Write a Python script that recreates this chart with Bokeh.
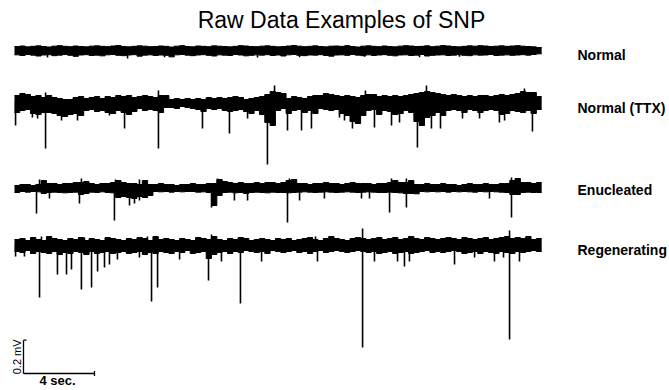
import math
import numpy as np
from bokeh.plotting import figure
from bokeh.models import Range1d, Label
from bokeh.embed import file_html
from bokeh.resources import INLINE

# ---------------------------------------------------------------
# Recorded SNP traces (values in microvolts relative to each
# trace's resting level).  Each trace is stored as the upper and
# lower envelope of the noise band in 0.3 s bins, plus the discrete
# deflections (time in s, peak in uV) that stand out of the band.
# ---------------------------------------------------------------
BIN_SEC = 0.3

normal_top = [
    24, 27, 22, 25, 28, 24, 21, 26, 29, 25,
    23, 27, 24, 22, 26, 28, 25, 23, 27, 30,
    24, 22, 25, 28, 26, 23, 24, 27, 25, 21,
    26, 29, 24, 22, 27, 25, 23, 28, 26, 24,
    22, 25, 29, 27, 24, 23, 26, 28, 25, 22,
    24, 27, 30, 26, 23, 25, 28, 24, 22, 26,
    27, 25, 29, 24, 21, 26, 28, 25, 23, 27,
    24, 22, 26, 29, 27, 24, 25, 28, 23, 26,
    30, 27, 24, 22, 25, 28, 26, 29, 27, 24,
    26, 28, 25, 27, 29, 26, 24, 22, 18,
]
normal_bot = [
    -26, -30, -24, -28, -33, -27, -25, -31, -28, -24,
    -29, -35, -27, -25, -30, -28, -32, -26, -24, -29,
    -31, -27, -25, -34, -28, -26, -30, -27, -29, -38,
    -26, -24, -28, -31, -27, -25, -29, -33, -26, -28,
    -30, -24, -27, -32, -29, -26, -28, -25, -30, -27,
    -33, -26, -24, -29, -31, -27, -28, -25, -30, -34,
    -27, -26, -29, -24, -28, -31, -26, -30, -27, -25,
    -29, -32, -27, -26, -30, -28, -24, -33, -29, -27,
    -26, -30, -28, -25, -29, -31, -26, -28, -27, -24,
    -30, -28, -26, -29, -27, -25, -28, -24, -20,
]
normal_spike_t = [1.86, 6.37, 8.45, 13.69, 16.06, 19.72, 22.82, 25.07]
normal_spike_v = [-42, -48, -40, -42, -40, -38, -40, -38]

ttx_top = [
    36, 48, 42, 30, 36, 24, 36, 24, 18, 12,
    12, 24, 30, 18, 24, 30, 18, 30, 24, 36,
    30, 36, 24, 30, 36, 30, 24, 36, 36, 12,
    18, 12, 18, 12, 18, 12, 24, 18, 24, 18,
    24, 30, 24, 12, 18, 24, 30, 42, 60, 54,
    48, 18, 30, 24, 18, 30, 36, 36, 48, 42,
    36, 30, 36, 30, 24, 36, 42, 42, 30, 36,
    30, 36, 30, 36, 42, 48, 54, 60, 54, 48,
    42, 36, 42, 36, 30, 36, 30, 36, 36, 30,
    36, 42, 36, 42, 48, 60, 54, 54, 30,
]
ttx_bot = [
    -66, -54, -48, -72, -78, -66, -66, -72, -84, -90,
    -78, -72, -84, -54, -48, -60, -54, -66, -72, -54,
    -66, -78, -60, -42, -54, -48, -54, -66, -36, -36,
    -42, -30, -36, -42, -48, -60, -42, -48, -42, -54,
    -60, -54, -48, -60, -72, -54, -78, -126, -144, -54,
    -42, -72, -54, -48, -66, -54, -72, -42, -48, -54,
    -48, -72, -84, -120, -132, -84, -54, -48, -78, -54,
    -60, -78, -72, -54, -66, -120, -144, -96, -84, -66,
    -84, -54, -48, -54, -66, -48, -54, -66, -54, -48,
    -54, -78, -72, -54, -60, -66, -54, -72, -48,
]
ttx_spike_t = [
    0.06, 1.01, 1.30, 1.75, 2.65, 3.55, 5.35, 6.20, 8.11, 10.59,
    12.11, 13.13, 14.25, 15.38, 16.17, 16.73, 18.31, 18.59, 19.04, 19.44,
    20.28, 21.24, 21.69, 22.70, 23.49, 24.00, 25.24, 26.20, 27.32, 27.61,
    29.18,
    1.75, 8.11, 14.65, 19.77, 23.21, 28.73,
]
ttx_spike_v = [
    -144, -96, -102, -282, -114, -114, -84, -162, -282, -162,
    -192, -102, -378, -174, -174, -162, -96, -114, -162, -102,
    -156, -144, -126, -276, -162, -162, -102, -102, -126, -114,
    -180,
    54, 66, 96, 66, 96, 78,
]

enuc_top = [
    12, 18, 18, 12, 18, 42, 24, 24, 18, 24,
    24, 30, 30, 36, 24, 18, 24, 24, 30, 42,
    30, 24, 24, 18, 42, 18, 18, 24, 18, 18,
    12, 18, 18, 24, 18, 18, 24, 24, 48, 36,
    30, 24, 30, 24, 24, 30, 24, 30, 30, 24,
    30, 42, 48, 24, 24, 18, 24, 24, 30, 24,
    24, 18, 24, 30, 24, 24, 24, 18, 24, 24,
    30, 42, 30, 30, 42, 18, 18, 24, 18, 18,
    24, 18, 18, 12, 18, 24, 18, 18, 24, 18,
    18, 24, 24, 42, 54, 30, 30, 24, 30,
]
enuc_bot = [
    -30, -24, -28, -24, -26, -36, -30, -28, -30, -32,
    -30, -28, -42, -36, -28, -30, -26, -30, -32, -60,
    -54, -60, -66, -54, -60, -48, -24, -26, -24, -28,
    -24, -26, -24, -24, -28, -26, -30, -108, -48, -30,
    -28, -32, -30, -36, -30, -28, -30, -32, -28, -30,
    -30, -32, -30, -28, -26, -28, -30, -28, -26, -28,
    -30, -28, -26, -28, -30, -28, -26, -28, -30, -30,
    -28, -30, -32, -36, -36, -38, -24, -26, -24, -26,
    -24, -28, -24, -26, -24, -26, -28, -24, -26, -24,
    -26, -28, -30, -42, -42, -30, -28, -30, -30,
]
enuc_spike_t = [
    1.24, 1.97, 3.66, 5.63, 6.48, 6.76, 7.04, 11.10, 12.39, 13.13,
    15.38, 16.06, 17.46, 19.55, 20.00, 21.13, 22.08, 26.76, 28.00,
    1.41, 3.77, 5.69, 7.04, 11.44, 15.49, 21.24, 22.08, 28.00,
]
enuc_spike_v = [
    -156, -66, -96, -198, -108, -96, -78, -120, -78, -78,
    -210, -78, -66, -66, -66, -150, -120, -66, -180,
    48, 54, 48, 48, 54, 54, 54, 54, 60,
]

regen_top = [
    30, 36, 24, 42, 30, 24, 48, 36, 30, 24,
    36, 30, 42, 24, 36, 30, 24, 42, 36, 30,
    24, 36, 30, 42, 36, 24, 48, 30, 36, 30,
    24, 36, 30, 24, 42, 36, 30, 48, 30, 24,
    36, 30, 42, 36, 24, 30, 36, 30, 24, 36,
    30, 36, 24, 30, 36, 42, 30, 24, 36, 48,
    36, 30, 24, 36, 42, 36, 30, 36, 42, 30,
    36, 42, 30, 36, 48, 36, 30, 42, 36, 30,
    36, 42, 36, 30, 42, 36, 30, 36, 42, 30,
    36, 42, 48, 36, 42, 36, 48, 30, 36,
]
regen_bot = [
    -42, -48, -36, -54, -42, -48, -54, -42, -60, -48,
    -54, -42, -48, -60, -42, -54, -48, -42, -54, -48,
    -42, -54, -48, -42, -60, -48, -54, -42, -48, -54,
    -42, -48, -36, -54, -48, -42, -84, -60, -48, -42,
    -54, -42, -48, -36, -42, -48, -42, -54, -36, -42,
    -48, -42, -36, -48, -42, -54, -42, -36, -48, -42,
    -36, -42, -48, -42, -36, -42, -48, -42, -54, -48,
    -42, -54, -48, -42, -54, -48, -42, -36, -48, -42,
    -48, -42, -36, -42, -54, -48, -42, -54, -42, -48,
    -54, -42, -48, -54, -42, -48, -42, -36, -42,
]
regen_spike_t = [
    0.06, 0.56, 1.41, 2.42, 2.93, 3.21, 3.77, 4.34, 4.68, 5.07,
    5.35, 5.80, 7.04, 7.72, 8.06, 9.30, 10.93, 11.66, 12.73, 13.92,
    17.07, 19.61, 20.28, 21.58, 21.97, 22.25, 24.79, 25.92, 27.04, 27.55,
    27.89, 28.45,
    1.52, 3.94, 7.49, 11.10, 16.96, 19.61, 27.89,
]
regen_spike_v = [
    -72, -72, -318, -180, -180, -150, -270, -258, -162, -138,
    -120, -90, -78, -342, -258, -90, -216, -102, -354, -102,
    -102, -618, -102, -102, -132, -102, -120, -78, -102, -78,
    -570, -102,
    48, 42, 48, 60, 48, 96, 84,
]

trace_names = ["Normal", "Normal (TTX)", "Enucleated", "Regenerating"]

# scale bar
SCALE_UV = 200      # 0.2 mV
SCALE_SEC = 4

# ---------------------------------------------------------------
# Page geometry: one figure covering the page, 1 s = 17.75 px and
# 1 px = 6 uV, so the scale bar reads 4 s / 0.2 mV.
# ---------------------------------------------------------------
W, H = 669, 390
PX_PER_SEC = 17.75
UV_PER_PX = 6.0
X0_PX = 14


def sx(px):
    return (px - X0_PX) / PX_PER_SEC


def sy(py):
    return -py * UV_PER_PX


p = figure(
    width=W, height=H,
    x_range=Range1d(sx(0), sx(W)), y_range=Range1d(sy(H), sy(0)),
    output_backend="svg", toolbar_location=None,
    x_axis_location=None, y_axis_location=None,
    min_border=0, outline_line_color=None,
)
p.grid.visible = False
p.background_fill_color = "white"
p.border_fill_color = "white"

# (trace row, label row) on the page, in pixels from the top
rows = [(50, 54), (101, 107), (187, 189), (244, 249)]

traces = [
    (normal_top, normal_bot, normal_spike_t, normal_spike_v),
    (ttx_top, ttx_bot, ttx_spike_t, ttx_spike_v),
    (enuc_top, enuc_bot, enuc_spike_t, enuc_spike_v),
    (regen_top, regen_bot, regen_spike_t, regen_spike_v),
]

for name, (top, bot, st, sv), (row_px, label_px) in zip(trace_names, traces, rows):
    base = sy(row_px)
    # each bin is held flat over its 0.3 s window (sample-and-hold band)
    edges = np.arange(len(top) + 1) * BIN_SEC
    xs = np.column_stack([edges[:-1], edges[1:]]).ravel()
    hi = np.repeat(np.asarray(top, dtype=float) + base, 2)
    lo = np.repeat(np.asarray(bot, dtype=float) + base, 2)
    p.varea(x=xs, y1=lo, y2=hi, fill_color="black")
    p.line(x=xs, y=hi, line_color="black", line_width=1.0)
    p.line(x=xs, y=lo, line_color="black", line_width=1.0)
    # discrete deflections
    p.segment(x0=st, y0=[base] * len(st), x1=st, y1=[base + v for v in sv],
              line_color="black", line_width=1.6)
    p.add_layout(Label(
        x=sx(577), y=sy(label_px), text=name,
        text_font="Liberation Sans", text_font_style="bold",
        text_font_size="14px", text_color="black",
        text_align="left", text_baseline="alphabetic",
    ))

# title
p.add_layout(Label(
    x=sx(341), y=sy(19), text="Raw Data Examples of SNP",
    text_font="Liberation Sans", text_font_size="23px", text_color="black",
    text_align="center", text_baseline="alphabetic",
))

# scale bar
ox, oy = sx(23), sy(373)
tick_s = 3 / PX_PER_SEC
tick_uv = 2.5 * UV_PER_PX
p.segment(
    x0=[ox, ox, ox, ox + SCALE_SEC],
    y0=[oy, oy, oy + SCALE_UV, oy - tick_uv],
    x1=[ox, ox + SCALE_SEC, ox + tick_s, ox + SCALE_SEC],
    y1=[oy + SCALE_UV, oy, oy + SCALE_UV, oy + tick_uv],
    line_color="black", line_width=1.3,
)
p.add_layout(Label(
    x=sx(16), y=oy + SCALE_UV / 2, text="0.2 mV", angle=math.pi / 2,
    text_font="Liberation Sans", text_font_size="11px", text_color="black",
    text_align="center", text_baseline="middle",
))
p.add_layout(Label(
    x=sx(39), y=sy(380), text="4 sec.",
    text_font="Liberation Sans", text_font_style="bold",
    text_font_size="13px", text_color="black",
    text_align="left", text_baseline="alphabetic",
))

open("out.html", "w").write(file_html(p, INLINE))
